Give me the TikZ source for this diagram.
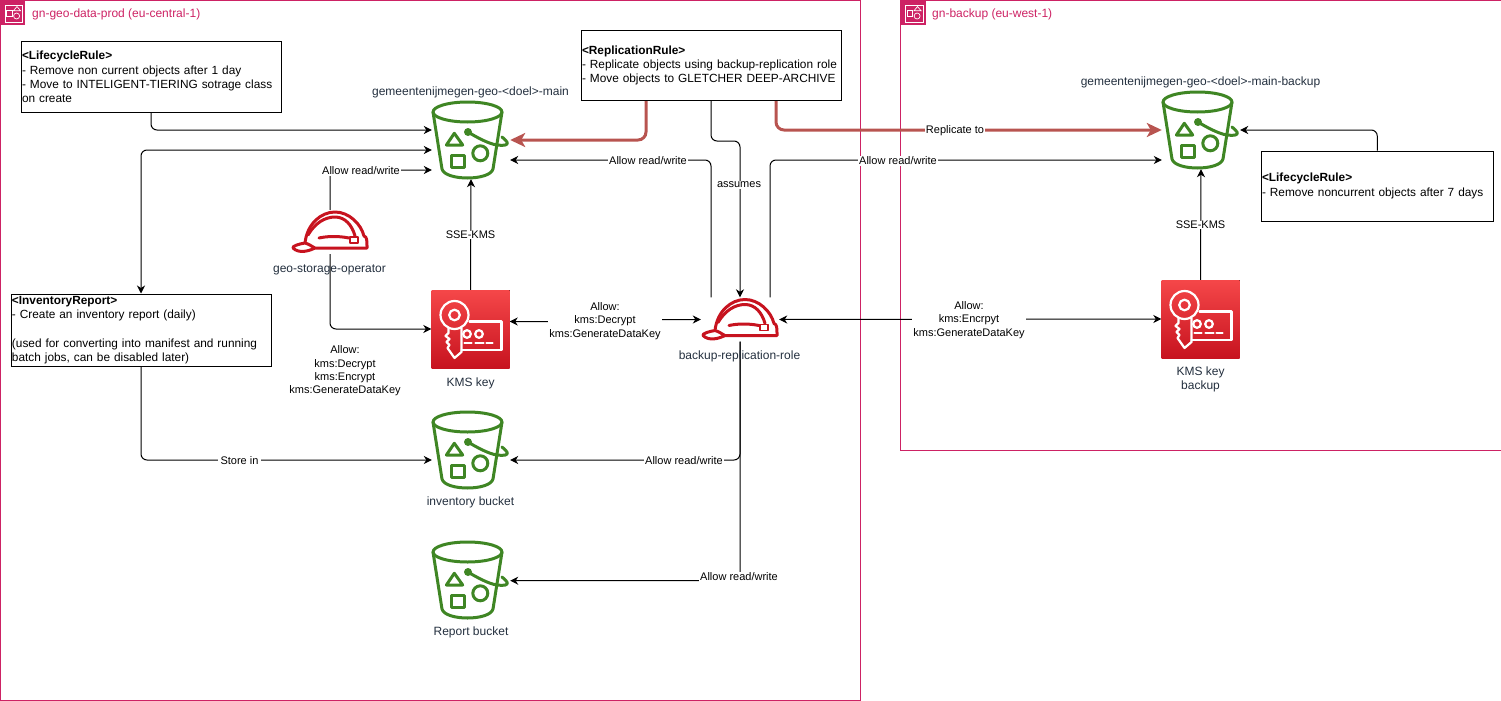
\documentclass[tikz,border=0pt]{standalone}
\usepackage{fontspec}
\setmainfont{Liberation Sans}
\usetikzlibrary{arrows.meta,calc}
\definecolor{acct}{HTML}{CD2264}
\definecolor{bkt}{HTML}{3F8624}
\definecolor{hatc}{HTML}{C7131F}
\definecolor{kmstop}{HTML}{F54749}
\definecolor{kmsbot}{HTML}{C7131F}
\definecolor{lbl}{HTML}{232F3E}
\definecolor{redline}{HTML}{B85450}
\tikzset{
  acctbox/.style={draw=acct,line width=1pt,fill=none},
  accttitle/.style={text=acct,anchor=west,inner sep=0pt,font=\fontsize{12}{14}\selectfont},
  rulebox/.style={draw=black,line width=1pt,fill=white,align=left,text width=258pt,inner xsep=1pt,inner ysep=0pt,anchor=north west,font=\fontsize{11.85}{14.4}\selectfont},
  iconbox/.style={minimum width=78pt,minimum height=78pt,inner sep=0pt},
  hatbox/.style={minimum width=78pt,minimum height=44pt,inner sep=0pt},
  iconlabel/.style={text=lbl,align=center,inner sep=0pt,font=\fontsize{12}{14.4}\selectfont},
  conn/.style={draw=black,line width=1pt,rounded corners=6pt,-{Stealth[length=8pt,width=8pt,inset=2.5pt]}},
  connboth/.style={conn,{Stealth[length=8pt,width=8pt,inset=2.5pt]}-{Stealth[length=8pt,width=8pt,inset=2.5pt]}},
  redconn/.style={draw=redline,line width=3pt,rounded corners=8pt,-{Stealth[length=15pt,width=14pt,inset=4pt]}},
  edgelabel/.style={fill=white,inner xsep=1pt,inner ysep=0.5pt,align=center,font=\fontsize{11}{13.4}\selectfont},
  freelabel/.style={inner sep=0pt,align=center,font=\fontsize{11}{13.4}\selectfont},
  bucket/.pic={
    \begin{scope}[draw=bkt,line width=3pt,line join=round,line cap=round]
      \draw (-3.5,-28) ellipse [x radius=34.5,y radius=10];
      \draw (-38,-28) -- (-29,29) .. controls (-26,41) and (19,41) .. (22,29) -- (31,-28);
      \fill[bkt] (-3,-8) circle (4);
      \draw (-3,-8) .. controls (5,-3) and (18,4) .. (26,5) .. controls (33,6) and (38,5) .. (36,2) .. controls (35,0) and (33,-1) .. (31,-3);
      \draw (-16.7,-6.7) -- (-24.6,5) -- (-8.3,5) -- cycle;
      \draw (-19.3,15) rectangle (-7,27.3);
      \draw (9.3,13.3) circle (7.5);
    \end{scope}
  },
  hat/.pic={
    \begin{scope}[shift={(-39,-22)},draw=hatc,line width=3pt,line join=round,line cap=round]
      \draw (14,33) .. controls (16,14) and (30,2) .. (44,2) .. controls (58,2) and (70,14) .. (73,26) .. controls (76,27) and (76,30) .. (76,38) -- (24,38) .. controls (18,41) and (8,44) .. (2,38) .. controls (1,36) and (8,34) .. (14,33) .. controls (18,34) and (20,36) .. (24,38);
      \draw (17,25) .. controls (24,13) and (34,7) .. (44,7) .. controls (54,7) and (61,15) .. (64,26);
      \draw (28,28) .. controls (37,26) and (48,26) .. (58,28);
      \draw[line width=1.8pt] (59,27) rectangle (67,33);
    \end{scope}
  },
  kmskey/.pic={
    \fill[top color=kmstop,bottom color=kmsbot] (-39,-39) rectangle (39,39);
    \begin{scope}[shift={(-39,-39)},draw=white,line width=2.2pt,line join=round,line cap=round]
      \draw (17,38) -- (17,43) -- (14,46) -- (18,49) -- (15,52) -- (18,55) -- (16,58) -- (23,68) -- (30,62) -- (30,38);
      \draw (23,25) circle (14);
      \draw (23,25) circle (5.3);
      \draw (38,31.5) -- (70,31.5) -- (70,60) -- (30,60);
      \draw (35.5,44) circle (3.8);
      \draw (47.5,44) circle (3.8);
      \draw (33,53) -- (40,53);
      \draw (44,53) -- (52,53);
      \draw (55,53) -- (61,53);
    \end{scope}
  },
  accticon/.pic={
    \fill[acct] (0,0) rectangle (25,25);
    \begin{scope}[draw=white,line width=0.7pt]
      \draw (5,5) rectangle (22.5,22);
      \draw (6.7,10.7) rectangle (12.3,16.7);
      \draw (17,6.5) -- (13.5,10.7) -- (20.5,10.7) -- cycle;
      \draw (16.6,16) circle (3);
    \end{scope}
  }
}
\begin{document}
\begin{tikzpicture}[x=1pt,y=-1pt]
\useasboundingbox (0,0) rectangle (1501,701);
% accounts
\draw[acctbox] (0.5,0.5) rectangle (860,700);
\draw[acctbox] (900.5,0.5) rectangle (1501.5,450);
\pic at (0,0) {accticon};
\pic at (900.5,0) {accticon};
\node[accttitle] (t1) at (32,14) {gn-geo-data-prod (eu-central-1)};
\node[accttitle] (t2) at (932,14) {gn-backup (eu-west-1)};

% rule boxes
\node[rulebox,minimum height=71pt] (lc1) at (20.5,41) {\textbf{<LifecycleRule>}\\- Remove non current objects after 1 day\\- Move to INTELIGENT-TIERING sotrage class\\on create};
\node[rulebox,minimum height=70pt] (rr) at (580.5,30) {\textbf{<ReplicationRule>}\\- Replicate objects using backup-replication role\\- Move objects to GLETCHER DEEP-ARCHIVE};
\node[rulebox,minimum height=72pt] (ir) at (10.5,293.5) {\textbf{<InventoryReport>}\\- Create an inventory report (daily)\\[14.4pt](used for converting into manifest and running\\batch jobs, can be disabled later)};
\node[rulebox,minimum height=70pt,text width=230.5pt] (lc2) at (1260.5,150.5) {\textbf{<LifecycleRule>}\\- Remove noncurrent objects after 7 days};

% icon anchors
\node[iconbox] (b1) at (471,140) {};
\node[iconbox] (b2) at (1201,130) {};
\node[iconbox] (b3) at (471,450) {};
\node[iconbox] (b4) at (471,580) {};
\node[iconbox] (k1) at (470.5,329) {};
\node[iconbox] (k2) at (1200.5,319) {};
\node[hatbox] (op) at (330,232) {};
\node[hatbox] (role) at (740,319.5) {};

% connectors
\draw[conn] (lc1.south) |- ($(b1.west)+(0,-10)$);
\draw[connboth] ($(b1.west)+(0,10)$) -| (ir.north);
\draw[conn] (op.north) |- ($(b1.west)+(0,30)$);
\draw[conn] (op.south) |- (k1.west);
\draw[conn] (k1.north) -- (b1.south);
\draw[conn] (role.south) |- ($(b3.east)+(0,10)$);
\draw[conn] (role.south) |- ($(b4.east)+(0,0.7)$);
\draw[conn] (ir.south) |- ($(b3.west)+(0,10)$);
\draw[connboth] ($(k1.east)+(0,-7.5)$) -- (605,321.5) -- (605,319.5) -- (role.west);
\draw[connboth] (role.east) -- (k2.west);
\draw[conn] (k2.north) -- (b2.south);
\draw[conn] (lc2.north) |- (b2.east);
\draw[conn] (rr.south) -- ($(rr.south)+(0,40)$) -| (role.north);
\draw[conn] (role.north -| rr.south) |- ($(b1.east)+(0,20)$);
\draw[conn] ($(role.north)+(30,0)$) |- ($(b2.west)+(0,30)$);
\draw[redconn] ($(rr.south)+(-65,0)$) |- (b1.east);
\draw[redconn] ($(rr.south)+(65,0)$) |- (b2.west);

% icons
\pic at (b1.center) {bucket};
\pic at (b2.center) {bucket};
\pic at (b3.center) {bucket};
\pic at (b4.center) {bucket};
\pic at (k1.center) {kmskey};
\pic at (k2.center) {kmskey};
\pic at (op.center) {hat};
\pic at (role.center) {hat};

% icon labels
\node[iconlabel] (lb1) at (470.5,92) {gemeentenijmegen-geo-<doel>-main};
\node[iconlabel] (lb2) at (1200.5,82) {gemeentenijmegen-geo-<doel>-main-backup};
\node[iconlabel] (lb3) at (470.5,502.5) {inventory bucket};
\node[iconlabel] (lb4) at (471,632.5) {Report bucket};
\node[iconlabel] (lk1) at (470.5,383) {KMS key};
\node[iconlabel] (lk2) at (1200.5,379.5) {KMS key\\backup};
\node[iconlabel] (lop) at (329.5,269.5) {geo-storage-operator};
\node[iconlabel] (lrole) at (739.5,356) {backup-replication-role};

% connector labels
\node[edgelabel] (e1) at (361,171) {Allow read/write};
\node[edgelabel] (e2) at (648,161) {Allow read/write};
\node[edgelabel] (e3) at (898,161) {Allow read/write};
\node[edgelabel] (e4) at (739,185) {assumes};
\node[edgelabel] (e5) at (470.5,235) {SSE-KMS};
\node[edgelabel] (e6) at (1200.5,225) {SSE-KMS};
\node[edgelabel] (e7) at (955,131) {Replicate to};
\node[edgelabel] (e8) at (605,321) {Allow:\\kms:Decrypt\\kms:GenerateDataKey};
\node[edgelabel] (e9) at (969,320) {Allow:\\kms:Encrpyt\\kms:GenerateDataKey};
\node[edgelabel,inner xsep=3pt] (e10) at (239.5,461) {Store in};
\node[edgelabel] (e11) at (684,461) {Allow read/write};
\node[edgelabel] (e12) at (739,577) {Allow read/write};
\node[freelabel] (e13) at (345,371) {Allow:\\kms:Decrypt\\kms:Encrypt\\kms:GenerateDataKey};
\end{tikzpicture}
\end{document}
